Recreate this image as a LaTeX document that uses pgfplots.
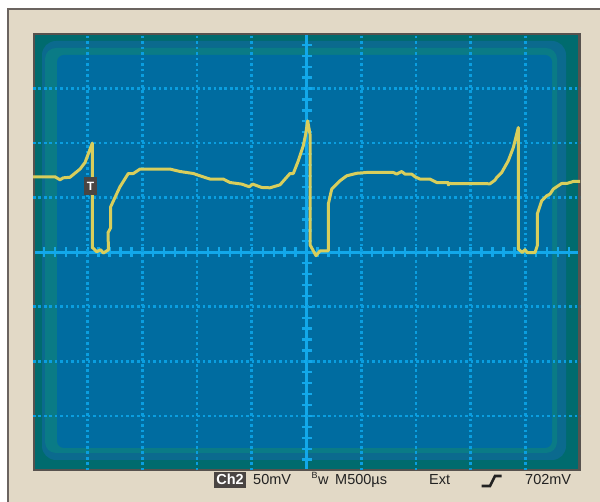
\documentclass[border=0pt]{standalone}
\usepackage{pgfplots}
\pgfplotsset{compat=1.18}
\usepackage{fontspec}
\setmainfont{Liberation Sans}
\definecolor{beige}{HTML}{E2D9C6}
\definecolor{frame}{HTML}{6B6460}
\definecolor{scrgray}{HTML}{57524E}
\definecolor{teal1}{HTML}{006B6E}
\definecolor{teal2}{HTML}{0B6A8E}
\definecolor{teal3}{HTML}{0A7B86}
\definecolor{scr}{HTML}{006CA0}
\definecolor{gridc}{HTML}{0A9EE0}
\definecolor{axc}{HTML}{12A8EA}
\definecolor{trace}{HTML}{D8CE5C}
\definecolor{lbl}{HTML}{4A4543}
\definecolor{txt}{HTML}{222222}
\begin{document}
\begin{tikzpicture}[x=1pt,y=1pt]
\useasboundingbox (0,0) rectangle (600,502);
\fill[white] (0,0) rectangle (600,502);
\begin{scope}[yshift=502pt,yscale=-1]
\fill[beige] (8,9) rectangle (600,502);
\draw[frame,line width=2pt] (8,502) -- (8,9) -- (600,9);
\fill[scrgray] (33,33) rectangle (580.5,471);
\fill[teal1] (35,35) rectangle (578,469);
\fill[teal2,rounded corners=14pt] (42,41) rectangle (566,460);
\fill[teal3,rounded corners=11pt] (45,48) rectangle (557,453);
\fill[scr,rounded corners=7pt] (57,55) rectangle (552,448);
\draw[axc,line width=3pt] (35,252.25) -- (578,252.25);
\draw[axc,line width=3pt] (306.5,35) -- (306.5,469);
\foreach \i in {1,...,49} \draw[axc,line width=2.3pt] ({33+\i*10.94},247.25) -- ++(0,10);
\foreach \i in {1,...,39} \draw[axc,line width=2.3pt] (301.5,{34+\i*10.9125}) -- ++(10,0);
\end{scope}
\begin{axis}[at={(33pt,31.5pt)},anchor=south west,width=547pt,height=436.5pt,scale only axis,
  xmin=0,xmax=10,ymin=-4,ymax=4,axis line style={draw=none},tick style={draw=none},
  xtick={1,2,3,4,6,7,8,9},ytick={-3,-2,-1,1,2,3},xticklabels={},yticklabels={},
  grid=major,major grid style={gridc,line width=2.7pt,dash pattern=on 2.6pt off 2.87pt},
  clip=false]
\addplot[trace,line width=3pt,line join=round] coordinates {
(0.000,1.383) (0.402,1.383) (0.494,1.328) (0.554,1.364) (0.676,1.374) (0.859,1.524)
(0.951,1.645) (1.011,1.804) (1.084,2.000) (1.084,0.088) (1.165,0.009) (1.238,0.046)
(1.285,-0.015) (1.380,0.046) (1.371,0.357) (1.420,0.449) (1.420,0.833) (1.499,1.004)
(1.590,1.200) (1.742,1.443) (1.834,1.443) (1.956,1.524) (2.505,1.524) (2.687,1.480)
(2.931,1.443) (3.053,1.401) (3.236,1.341) (3.479,1.341) (3.601,1.278) (3.815,1.249)
(3.954,1.200) (4.016,1.249) (4.181,1.187) (4.333,1.181) (4.516,1.236) (4.698,1.443)
(4.759,1.443) (4.850,1.676) (4.941,1.951) (4.985,2.165) (5.022,2.408) (5.064,2.165)
(5.064,0.137) (5.174,-0.064) (5.247,0.027) (5.399,0.027) (5.399,0.883) (5.461,1.158)
(5.612,1.310) (5.735,1.401) (5.918,1.447) (6.101,1.462) (6.587,1.462) (6.649,1.432)
(6.740,1.480) (6.801,1.432) (6.923,1.432) (6.984,1.383) (7.075,1.341) (7.258,1.341)
(7.380,1.278) (7.592,1.278) (7.592,1.236) (7.623,1.260) (8.355,1.255) (8.446,1.322)
(8.477,1.370) (8.569,1.462) (8.689,1.676) (8.781,1.919) (8.872,2.286) (8.872,0.059)
(8.945,-0.004) (8.995,0.046) (9.037,-0.009) (9.177,-0.009) (9.219,0.119) (9.219,0.700)
(9.300,0.943) (9.391,1.035) (9.452,1.066) (9.512,1.158) (9.665,1.260) (9.757,1.260)
(9.878,1.297) (10.000,1.297)};
\end{axis}
\begin{scope}[yshift=502pt,yscale=-1]
\fill[lbl] (84,177) rectangle (97,195);
\node[white,font=\bfseries\fontsize{12}{12}\selectfont,inner sep=0] at (90.5,186) {T};
\fill[lbl] (214,472) rectangle (246,488);
\node[white,font=\bfseries\fontsize{14.5}{17}\selectfont,anchor=base,inner sep=0] at (230,485) {Ch2};
\node[anchor=base west,inner sep=0,font=\fontsize{14.5}{17}\selectfont,text=txt] at (253,485) {50mV};
\node[anchor=base west,inner sep=0,font=\fontsize{9}{10}\selectfont,text=txt] at (311.5,478.5) {B};
\node[anchor=base west,inner sep=0,font=\fontsize{14.5}{17}\selectfont,text=txt] at (318,485) {w};
\node[anchor=base west,inner sep=0,font=\fontsize{14.5}{17}\selectfont,text=txt] at (335,485) {M500µs};
\node[anchor=base west,inner sep=0,font=\fontsize{14.5}{17}\selectfont,text=txt] at (429,485) {Ext};
\draw[txt,line width=2.6pt] (481.7,486) -- (490,486) -- (495,476) -- (501.7,476);
\node[anchor=base west,inner sep=0,font=\fontsize{14.5}{17}\selectfont,text=txt] at (525,485) {702mV};
\end{scope}
\end{tikzpicture}
\end{document}
